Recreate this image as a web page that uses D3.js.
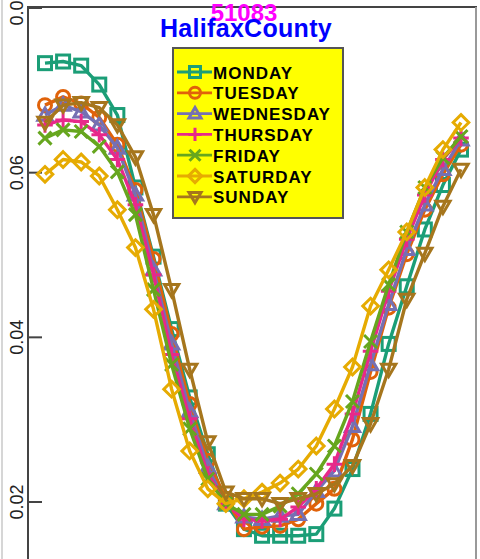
<!DOCTYPE html>
<html lang="en">
<head>
    <meta charset="UTF-8">
    <title>51083 HalifaxCounty</title>
    <script src="https://d3js.org/d3.v7.min.js"></script>
    <style>
        body {
            margin: 0;
            background: #ffffff;
            font-family: 'Liberation Sans', Arial, sans-serif;
        }
        svg { display: block; }
    </style>
</head>
<body>
    <div id="chart"></div>
    <script>
    // hourly share of traffic, one array per weekday (hour 0..23)
    const hours = d3.range(24);
    const days = ["MONDAY", "TUESDAY", "WEDNESDAY", "THURSDAY", "FRIDAY", "SATURDAY", "SUNDAY"];

    const monday    = [0.0733,0.0735,0.0730,0.0707,0.0670,0.0582,0.0498,0.0410,0.0327,0.0258,0.0198,0.0167,0.0159,0.0159,0.0159,0.0161,0.0192,0.0240,0.0307,0.0392,0.0462,0.0531,0.0585,0.0628];
    const tuesday   = [0.0682,0.0692,0.0684,0.0667,0.0634,0.0579,0.0495,0.0404,0.0319,0.0250,0.0204,0.0167,0.0170,0.0171,0.0179,0.0198,0.0216,0.0276,0.0358,0.0436,0.0501,0.0555,0.0598,0.0634];
    const wednesday = [0.0670,0.0682,0.0674,0.0658,0.0630,0.0573,0.0482,0.0392,0.0310,0.0242,0.0198,0.0182,0.0179,0.0183,0.0185,0.0213,0.0238,0.0292,0.0367,0.0440,0.0507,0.0561,0.0604,0.0640];
    const thursday  = [0.0658,0.0664,0.0662,0.0646,0.0616,0.0561,0.0476,0.0379,0.0301,0.0234,0.0198,0.0179,0.0177,0.0179,0.0194,0.0216,0.0246,0.0307,0.0383,0.0456,0.0519,0.0573,0.0616,0.0642];
    const friday    = [0.0642,0.0652,0.0650,0.0632,0.0601,0.0549,0.0458,0.0367,0.0289,0.0228,0.0198,0.0185,0.0185,0.0195,0.0210,0.0234,0.0268,0.0322,0.0395,0.0464,0.0528,0.0582,0.0618,0.0644];
    const saturday  = [0.0598,0.0616,0.0613,0.0596,0.0555,0.0509,0.0434,0.0337,0.0262,0.0216,0.0198,0.0204,0.0212,0.0223,0.0240,0.0268,0.0313,0.0364,0.0438,0.0482,0.0528,0.0582,0.0628,0.0661];
    const sunday    = [0.0661,0.0682,0.0685,0.0679,0.0658,0.0619,0.0549,0.0458,0.0361,0.0273,0.0212,0.0204,0.0204,0.0198,0.0204,0.0210,0.0222,0.0244,0.0295,0.0361,0.0446,0.0502,0.0559,0.0604];

    const yTicks = [0.02, 0.04, 0.06, 0.08];

    const series = [monday, tuesday, wednesday, thursday, friday, saturday, sunday];
    const colors = ["#1b9e77", "#e0620a", "#7570b3", "#e7298a", "#66a61e", "#e6ab02", "#a6761d"];
    const shapes = ["square", "circle", "triUp", "plus", "cross", "diamond", "triDown"];

    const W = 480, H = 559;
    const svg = d3.select("#chart").append("svg")
        .attr("width", W).attr("height", H);

    const x = d3.scaleLinear().domain([0, 23]).range([45, 461]);
    const y = d3.scaleLinear().domain([0.02, 0.08]).range([502, 8]);

    // outer border bits
    svg.append("line").attr("x1", 2).attr("x2", 2).attr("y1", 0).attr("y2", H)
        .attr("stroke", "#c8c8c8").attr("stroke-width", 1.5);
    svg.append("path")
        .attr("d", `M28,${H}V7H476V${H}`)
        .attr("fill", "none").attr("stroke", "#444").attr("stroke-width", 2);
    svg.append("line").attr("x1", 476).attr("x2", 476).attr("y1", 7).attr("y2", H)
        .attr("stroke", "#999").attr("stroke-width", 2);

    // y axis: ticks point inward, labels rotated
    const yAxis = svg.append("g");
    yAxis.selectAll("line").data(yTicks).join("line")
        .attr("x1", 28).attr("x2", 42)
        .attr("y1", d => y(d)).attr("y2", d => y(d))
        .attr("stroke", "#444").attr("stroke-width", 2);
    yAxis.selectAll("text").data(yTicks).join("text")
        .attr("transform", d => `translate(23,${y(d)}) rotate(-90)`)
        .attr("text-anchor", "middle")
        .style("font-size", "18px")
        .attr("fill", "#222")
        .text(d => d.toFixed(2));

    // marker drawing
    function marker(g, shape, color, s) {
        const h = s / 2;
        let el;
        if (shape === "square") {
            el = g.append("rect").attr("x", -h).attr("y", -h).attr("width", s).attr("height", s);
        } else if (shape === "circle") {
            el = g.append("circle").attr("r", h);
        } else if (shape === "triUp") {
            el = g.append("path").attr("d", `M0,${-h * 1.1}L${h * 1.1},${h * 0.8}L${-h * 1.1},${h * 0.8}Z`);
        } else if (shape === "triDown") {
            el = g.append("path").attr("d", `M0,${h * 1.1}L${h * 1.1},${-h * 0.8}L${-h * 1.1},${-h * 0.8}Z`);
        } else if (shape === "plus") {
            el = g.append("path").attr("d", `M0,${-h * 1.2}V${h * 1.2}M${-h * 1.2},0H${h * 1.2}`);
        } else if (shape === "cross") {
            el = g.append("path").attr("d", `M${-h},${-h}L${h},${h}M${-h},${h}L${h},${-h}`);
        } else {
            el = g.append("path").attr("d", `M0,${-h * 1.2}L${h * 1.2},0L0,${h * 1.2}L${-h * 1.2},0Z`);
        }
        el.attr("fill", "none").attr("stroke", color).attr("stroke-width", 3);
    }

    const line = d3.line().x((d, i) => x(hours[i])).y(d => y(d));

    series.forEach((vals, k) => {
        const g = svg.append("g").attr("class", "series");
        g.append("path")
            .datum(vals)
            .attr("d", line)
            .attr("fill", "none")
            .attr("stroke", colors[k])
            .attr("stroke-width", 3.4)
            .attr("stroke-linejoin", "round");
        vals.forEach((v, i) => {
            const m = g.append("g").attr("transform", `translate(${x(hours[i])},${y(v)})`);
            marker(m, shapes[k], colors[k], 13);
        });
    });

    // titles
    svg.append("text")
        .attr("x", 244).attr("y", 21)
        .attr("text-anchor", "middle")
        .attr("fill", "#ff00ff")
        .style("font-size", "24px").style("font-weight", "bold")
        .text("51083");
    svg.append("text")
        .attr("x", 246).attr("y", 37)
        .attr("text-anchor", "middle")
        .attr("fill", "#0000ff")
        .style("font-size", "25px").style("font-weight", "bold")
        .style("letter-spacing", "0.3px")
        .text("HalifaxCounty");

    // legend
    const legend = svg.append("g");
    legend.append("rect")
        .attr("x", 173).attr("y", 48).attr("width", 170).attr("height", 170)
        .attr("fill", "#ffff00").attr("stroke", "#555").attr("stroke-width", 2);
    days.forEach((name, k) => {
        const cy = 72 + k * 20.8;
        const row = legend.append("g").attr("transform", `translate(0,${cy})`);
        row.append("line").attr("x1", 177).attr("x2", 212).attr("y1", 0).attr("y2", 0)
            .attr("stroke", colors[k]).attr("stroke-width", 2.8);
        const m = row.append("g").attr("transform", "translate(195,0)");
        marker(m, shapes[k], colors[k], 11);
        row.append("text")
            .attr("x", 213).attr("y", 6.5)
            .attr("fill", "#000")
            .style("font-size", "17px").style("font-weight", "bold")
            .style("letter-spacing", "1px")
            .text(name);
    });
    </script>
</body>
</html>
